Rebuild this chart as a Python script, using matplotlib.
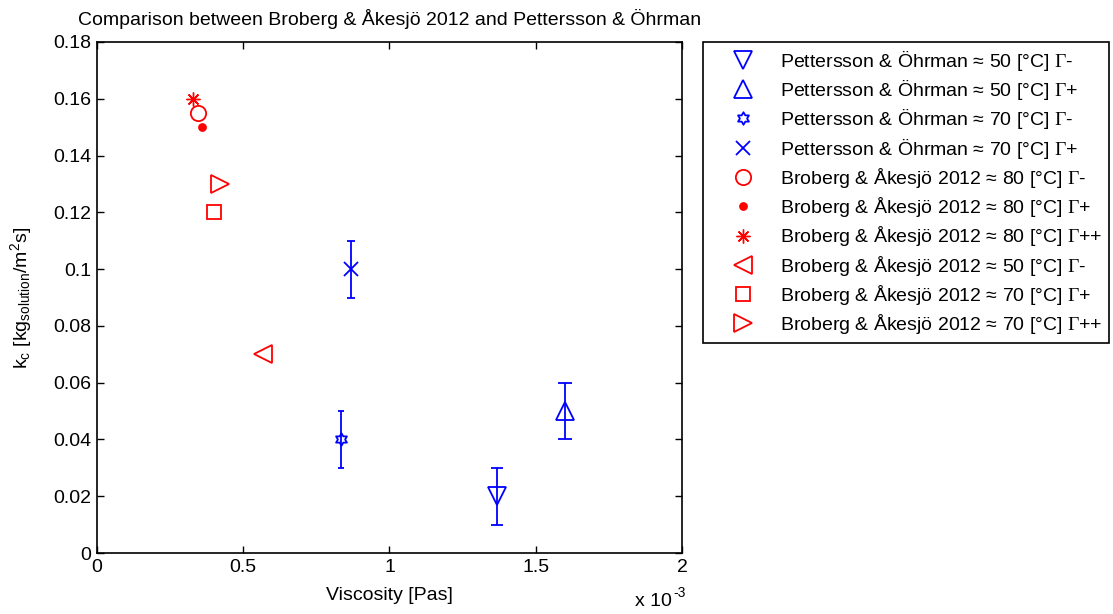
import numpy as np
import matplotlib
matplotlib.use("Agg")
import matplotlib.pyplot as plt
from matplotlib.path import Path
from matplotlib.ticker import FuncFormatter, MultipleLocator

plt.rcParams["font.family"] = ["Liberation Sans", "DejaVu Sans"]
plt.rcParams["mathtext.fontset"] = "custom"
plt.rcParams["mathtext.rm"] = "Liberation Sans"
plt.rcParams["mathtext.it"] = "Liberation Sans:italic"
plt.rcParams["mathtext.sf"] = "Liberation Serif"

# Viscosity [Pas] and mass-transfer coefficient k_c [kg/m2s]
p50_minus_x, p50_minus_y, p50_minus_err = [1.366e-3], [0.02], [0.01]
p50_plus_x, p50_plus_y, p50_plus_err = [1.600e-3], [0.05], [0.01]
p70_minus_x, p70_minus_y, p70_minus_err = [0.833e-3], [0.04], [0.01]
p70_plus_x, p70_plus_y, p70_plus_err = [0.867e-3], [0.10], [0.01]

b80_minus_x, b80_minus_y = [0.345e-3], [0.155]
b80_plus_x, b80_plus_y = [0.358e-3], [0.15]
b80_pp_x, b80_pp_y = [0.328e-3], [0.16]
b50_minus_x, b50_minus_y = [0.568e-3], [0.07]
b70_plus_x, b70_plus_y = [0.400e-3], [0.12]
b70_pp_x, b70_pp_y = [0.420e-3], [0.13]

G = r"$\mathsf{\Gamma}$"
labels = [
    "Pettersson & Öhrman ≈ 50 [°C] " + G + "-",
    "Pettersson & Öhrman ≈ 50 [°C] " + G + "+",
    "Pettersson & Öhrman ≈ 70 [°C] " + G + "-",
    "Pettersson & Öhrman ≈ 70 [°C] " + G + "+",
    "Broberg & Åkesjö 2012 ≈ 80 [°C] " + G + "-",
    "Broberg & Åkesjö 2012 ≈ 80 [°C] " + G + "+",
    "Broberg & Åkesjö 2012 ≈ 80 [°C] " + G + "++",
    "Broberg & Åkesjö 2012 ≈ 50 [°C] " + G + "-",
    "Broberg & Åkesjö 2012 ≈ 70 [°C] " + G + "+",
    "Broberg & Åkesjö 2012 ≈ 70 [°C] " + G + "++",
]

hexagram = Path.unit_regular_star(6, innerCircle=0.577)
asterisk = (8, 2, 0)

BLUE = (0, 0, 1)
RED = (1, 0, 0)
LW = 1.3
FS = 14

fig = plt.figure(figsize=(11.13, 6.14), dpi=100)
ax = fig.add_axes([97 / 1113, 61 / 614, 585 / 1113, 511 / 614])

# blue series with error bars
blue_series = [
    (p50_minus_x, p50_minus_y, p50_minus_err, "v", 13, 4.0),
    (p50_plus_x, p50_plus_y, p50_plus_err, "^", 13, 4.7),
    (p70_minus_x, p70_minus_y, p70_minus_err, hexagram, 9, 2.5),
    (p70_plus_x, p70_plus_y, p70_plus_err, "x", 9.5, 3.2),
]
for (x, y, e, m, ms, cs), lab in zip(blue_series, labels[:4]):
    ax.errorbar(x, y, yerr=e, fmt="none", ecolor=BLUE, elinewidth=LW,
                capsize=cs, capthick=LW)
    ax.plot(x, y, ls="none", marker=m, ms=ms, mfc="none", mec=BLUE,
            mew=LW, label=lab)

red_series = [
    (b80_minus_x, b80_minus_y, "o", 11, "none", LW),
    (b80_plus_x, b80_plus_y, "o", 5, RED, LW),
    (b80_pp_x, b80_pp_y, asterisk, 10, "none", 1.0),
    (b50_minus_x, b50_minus_y, "<", 13, "none", LW),
    (b70_plus_x, b70_plus_y, "s", 9.5, "none", LW),
    (b70_pp_x, b70_pp_y, ">", 13, "none", LW),
]
for (x, y, m, ms, fc, mw), lab in zip(red_series, labels[4:]):
    ax.plot(x, y, ls="none", marker=m, ms=ms, mfc=fc, mec=RED, mew=mw,
            label=lab)

ax.set_xlim(0, 2e-3)
ax.set_ylim(0, 0.18)
ax.xaxis.set_major_locator(MultipleLocator(0.5e-3))
ax.yaxis.set_major_locator(MultipleLocator(0.02))
ax.xaxis.set_major_formatter(FuncFormatter(lambda v, p: f"{v * 1e3:g}"))
ax.yaxis.set_major_formatter(FuncFormatter(lambda v, p: f"{round(v, 4):g}"))
ax.tick_params(direction="in", top=True, right=True, length=5, width=1,
               labelsize=FS, pad=4)
for s in ax.spines.values():
    s.set_linewidth(1.2)

ax.set_xlabel("Viscosity [Pas]", fontsize=FS, labelpad=8)
ax.set_ylabel(r"k$_\mathrm{c}$ [kg$_\mathrm{solution}$/m$^\mathrm{2}$s]",
              fontsize=FS, labelpad=14)
ax.set_title("Comparison between Broberg & Åkesjö 2012 and Pettersson & Öhrman",
             fontsize=FS, pad=12)

# exponent note under the right end of the x axis
fig.text(672 / 1113, 8 / 614, "x 10", fontsize=FS, ha="right", va="baseline")
fig.text(673 / 1113, 17 / 614, "-3", fontsize=10, ha="left", va="baseline")

leg = ax.legend(loc="upper left", bbox_to_anchor=(703 / 1113, 572 / 614),
                bbox_transform=fig.transFigure, fontsize=FS, frameon=True,
                fancybox=False, edgecolor="black", framealpha=1,
                borderpad=0.35, labelspacing=0.27, handlelength=3.4,
                handletextpad=0.2, borderaxespad=0, numpoints=1)
leg.get_frame().set_linewidth(1.2)

fig.savefig("out.png", dpi=100)
